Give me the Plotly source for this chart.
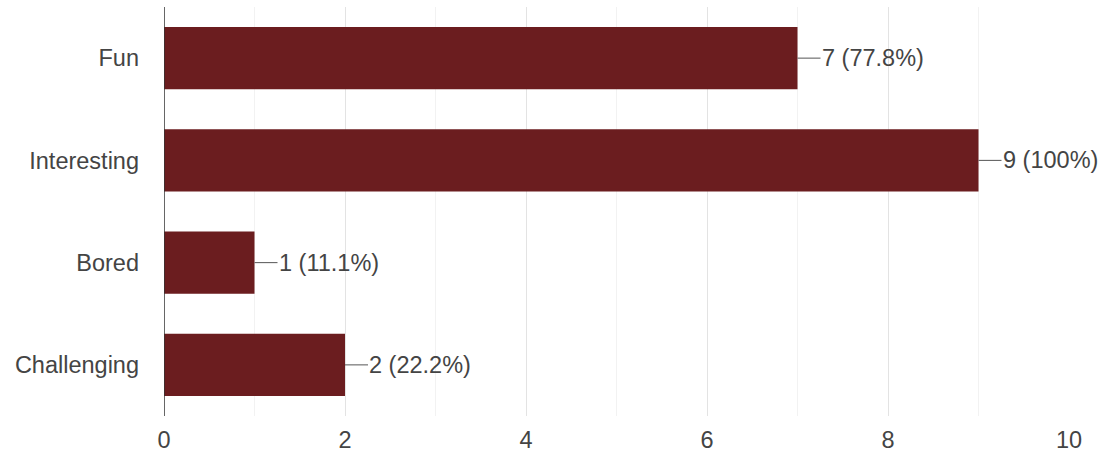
import plotly.graph_objects as go

categories = ["Fun", "Interesting", "Bored", "Challenging"]
counts = [7, 9, 1, 2]
percent_labels = ["77.8%", "100%", "11.1%", "22.2%"]
x_ticks = [0, 2, 4, 6, 8, 10]

bar_color = "#6b1d1f"
text_color = "#444444"
font_family = "Arial, Liberation Sans, sans-serif"
font_size = 23.5

fig = go.Figure()
fig.add_trace(go.Bar(
    x=counts,
    y=categories,
    orientation="h",
    marker=dict(color=bar_color, line=dict(width=0)),
    width=0.61,
    hoverinfo="skip",
))

# value labels with a short leader line from the bar end
for cat, n, pct in zip(categories, counts, percent_labels):
    fig.add_annotation(
        x=n, y=cat, xref="x", yref="y",
        text=f"{n} ({pct})",
        showarrow=True, arrowhead=0, arrowwidth=1, arrowcolor="#555555",
        ax=23, ay=0, axref="pixel", ayref="pixel",
        xanchor="left", yanchor="middle",
        standoff=0, startstandoff=0, borderpad=0,
        font=dict(size=font_size, color=text_color, family=font_family),
    )

# lighter minor gridlines at odd values
for v in range(1, 10, 2):
    fig.add_shape(type="line", xref="x", yref="paper", x0=v, x1=v, y0=0, y1=1,
                  line=dict(color="#f2f2f2", width=1), layer="below")

fig.update_layout(
    width=1105, height=454,
    margin=dict(l=164, r=36, t=7, b=38),
    paper_bgcolor="white", plot_bgcolor="white",
    showlegend=False,
    font=dict(family=font_family, size=font_size, color=text_color),
)
fig.update_xaxes(
    range=[0, 10], tickvals=x_ticks, ticktext=[str(t) for t in x_ticks],
    showgrid=True, gridcolor="#e3e3e3", gridwidth=1,
    zeroline=False, showline=False, ticks="", automargin=False,
    tickfont=dict(size=font_size, color=text_color), ticklabelstandoff=7,
)
fig.update_yaxes(
    categoryorder="array", categoryarray=categories[::-1],
    showgrid=False, zeroline=False, automargin=False,
    showline=False, ticks="",
    tickfont=dict(size=font_size, color=text_color), ticklabelstandoff=24,
)
# vertical baseline at zero
fig.add_shape(type="line", xref="x", yref="paper", x0=0, x1=0, y0=0, y1=1.0,
              line=dict(color="#333333", width=1.5))

fig.write_html("out.html")
